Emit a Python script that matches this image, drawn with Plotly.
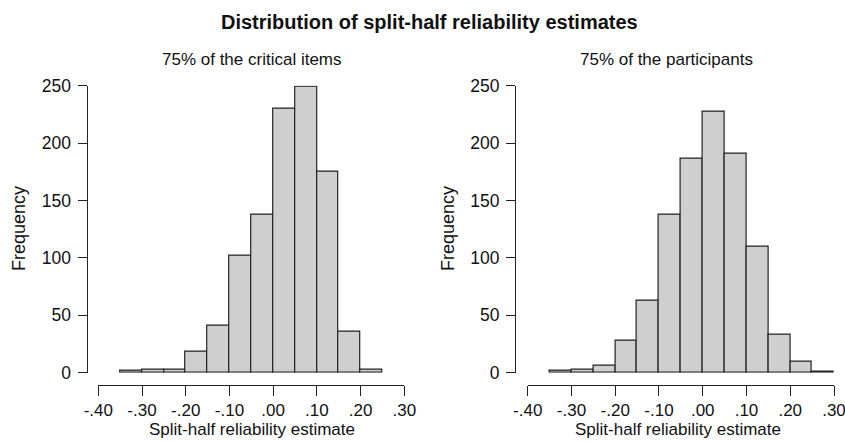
import plotly.graph_objects as go

# Bin left edges (width 0.05)
bins_left = [-0.35, -0.30, -0.25, -0.20, -0.15, -0.10, -0.05, 0.00, 0.05, 0.10, 0.15, 0.20]
counts_left = [2, 3, 3, 18, 41, 102, 138, 230, 249, 175, 36, 3]

bins_right = [-0.35, -0.30, -0.25, -0.20, -0.15, -0.10, -0.05, 0.00, 0.05, 0.10, 0.15, 0.20, 0.25]
counts_right = [2, 3, 6, 28, 63, 138, 186, 227, 191, 110, 33, 10, 1]

bin_width = 0.05
x_tickvals = [-0.4, -0.3, -0.2, -0.1, 0.0, 0.1, 0.2, 0.3]
x_ticktext = ["-.40", "-.30", "-.20", "-.10", ".00", ".10", ".20", ".30"]
y_tickvals = [0, 50, 100, 150, 200, 250]

main_title = "Distribution of split-half reliability estimates"
sub_left = "75% of the critical items"
sub_right = "75% of the participants"
x_title = "Split-half reliability estimate"
y_title = "Frequency"

W, H = 845, 442
FONT = "Liberation Sans, Arial, sans-serif"
BAR_FILL = "#cfcfcf"
LINE = "#222222"
TXT = "#111111"

def px_x(p):
    return p / W

def px_y(p):
    return 1 - p / H

fig = go.Figure()

fig.add_trace(go.Bar(
    x=[b + bin_width / 2 for b in bins_left], y=counts_left, width=bin_width,
    marker=dict(color=BAR_FILL, line=dict(color=LINE, width=1.2)),
    xaxis="x", yaxis="y", showlegend=False, hoverinfo="skip"))
fig.add_trace(go.Bar(
    x=[b + bin_width / 2 for b in bins_right], y=counts_right, width=bin_width,
    marker=dict(color=BAR_FILL, line=dict(color=LINE, width=1.2)),
    xaxis="x2", yaxis="y2", showlegend=False, hoverinfo="skip"))

y0_px, y250_px = 372.7, 85.7
xaxis_line_px = 384.5
ydom = [px_y(y0_px), px_y(y250_px)]

common_x = dict(range=[-0.4, 0.3], tickvals=x_tickvals, ticktext=x_ticktext,
                showline=True, linecolor=LINE, linewidth=1, ticks="outside",
                ticklen=10, tickcolor=LINE, tickwidth=1, showgrid=False,
                zeroline=False, anchor="free", position=px_y(xaxis_line_px),
                automargin=False, fixedrange=True, ticklabeloverflow="allow",
                tickfont=dict(family=FONT, size=17, color=TXT))
common_y = dict(range=[0, 250], tickvals=y_tickvals, showline=True, linecolor=LINE,
                linewidth=1, ticks="outside", ticklen=9, tickcolor=LINE, tickwidth=1,
                showgrid=False, zeroline=False, anchor="free", domain=ydom,
                automargin=False, fixedrange=True, ticklabelstandoff=3,
                ticklabeloverflow="allow",
                tickfont=dict(family=FONT, size=17.5, color=TXT))

def ann(text, x, y, size=17, bold=False, angle=0):
    return dict(text=("<b>" + text + "</b>") if bold else text,
                x=px_x(x), y=px_y(y), xref="paper", yref="paper",
                showarrow=False, xanchor="center", yanchor="middle", textangle=angle,
                font=dict(family=FONT, size=size, color=TXT))

fig.update_layout(
    width=W, height=H, margin=dict(l=0, r=0, t=0, b=0, autoexpand=False),
    paper_bgcolor="white", plot_bgcolor="white", bargap=0,
    xaxis=dict(domain=[px_x(98.3), px_x(404.3)], **common_x),
    xaxis2=dict(domain=[px_x(527.7), px_x(834.0)], **common_x),
    yaxis=dict(position=px_x(86.5), **common_y),
    yaxis2=dict(position=px_x(515.0), **common_y),
    annotations=[
        ann(main_title, 429, 22, size=20, bold=True),
        ann(sub_left, 251.5, 60),
        ann(sub_right, 666, 60),
        ann(x_title, 251.5, 429),
        ann(x_title, 678, 429),
        ann(y_title, 19, 229, size=18, angle=-90),
        ann(y_title, 448, 229, size=18, angle=-90),
    ],
)

fig.write_html("out.html")
